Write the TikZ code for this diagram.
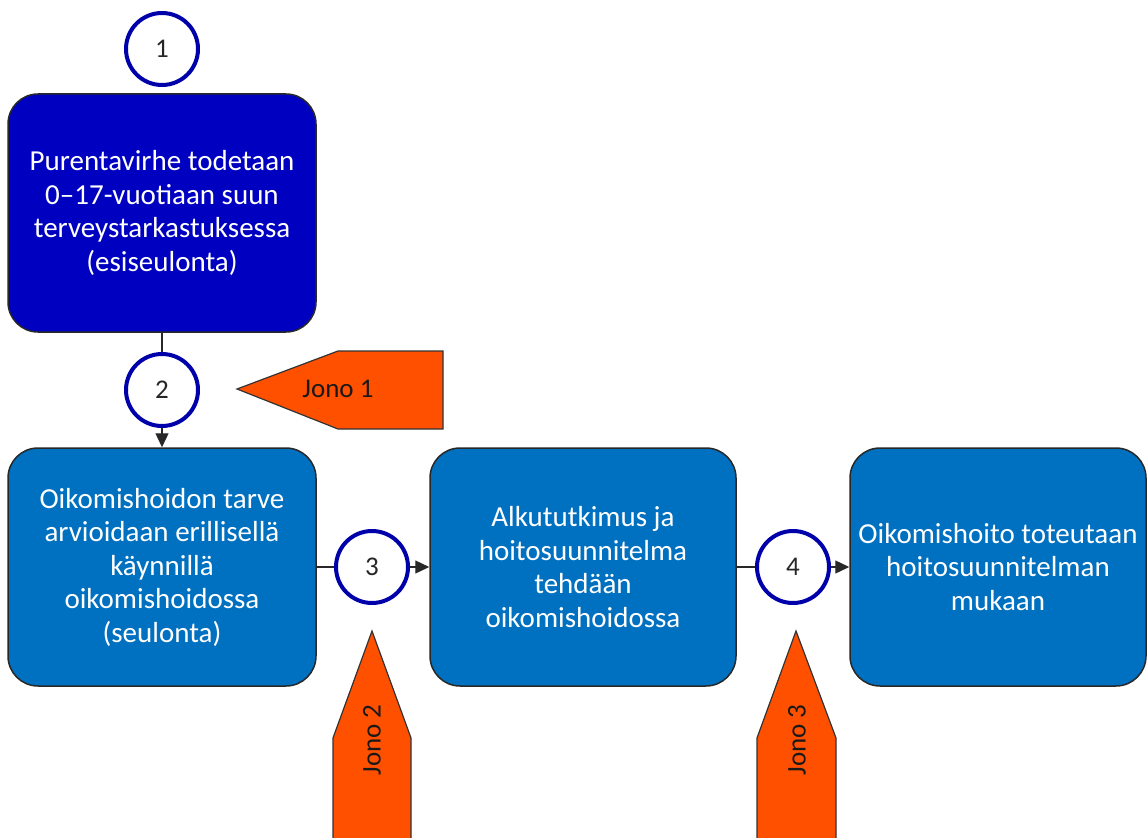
\documentclass[tikz,border=0pt]{standalone}
\usepackage{fontspec}
\setmainfont{Carlito}
\usetikzlibrary{arrows.meta}
\definecolor{darkbox}{RGB}{0,0,192}
\definecolor{midbox}{RGB}{0,112,192}
\definecolor{ringblue}{RGB}{0,0,170}
\definecolor{jonoorange}{RGB}{255,80,0}
\definecolor{edgegray}{RGB}{40,40,40}
\begin{document}
\begin{tikzpicture}[x=1pt,y=-1pt,
  stepbox/.style={rectangle, rounded corners=30pt, draw=edgegray, line width=1.5pt,
    minimum height=238pt, inner sep=0pt, align=center, text=white,
    font=\fontsize{29}{33.5}\selectfont},
  numring/.style={circle, draw=ringblue, fill=white, line width=4pt, minimum size=72pt,
    inner sep=0pt, text=black!85, font=\fontsize{27}{30}\selectfont},
  flag/.style={fill=jonoorange, draw=black!80, line width=1.2pt},
  flaglabel/.style={text=black!90, inner sep=0pt, font=\fontsize{27}{30}\selectfont},
  link/.style={draw=edgegray, line width=1.3pt},
  linkarrow/.style={link, -{Triangle[length=14pt,width=13pt]}}]
\useasboundingbox (0,0) rectangle (1147,837);
\clip (0,0) rectangle (1147,837);
% boxes
\node[stepbox, fill=darkbox, minimum width=308pt] (b1) at (162,213)
  {Purentavirhe todetaan\\0--17-vuotiaan suun\\terveystarkastuksessa\\(esiseulonta)};
\node[stepbox, fill=midbox, minimum width=308pt] (b2) at (162,567)
  {Oikomishoidon tarve\\arvioidaan erillisellä\\käynnillä\\oikomishoidossa\\(seulonta)};
\node[stepbox, fill=midbox, minimum width=306pt] (b3) at (583,567)
  {Alkututkimus ja\\hoitosuunnitelma\\tehdään\\oikomishoidossa};
\node[stepbox, fill=midbox, minimum width=296pt] (b4) at (998,567)
  {Oikomishoito toteutaan\\hoitosuunnitelman\\mukaan};
% numbered rings
\node[numring] (c1) at (162,49) {1};
\node[numring] (c2) at (162,390) {2};
\node[numring] (c3) at (372,567) {3};
\node[numring] (c4) at (793,567) {4};
% connectors
\draw[link] (b1.south) -- (c2.north);
\draw[linkarrow] (c2.south) -- (b2.north);
\draw[link] (b2.east) -- (c3.west);
\draw[linkarrow] (c3.east) -- (b3.west);
\draw[link] (b3.east) -- (c4.west);
\draw[linkarrow] (c4.east) -- (b4.west);
% queue flags
\draw[flag] (237,389) -- (338,351) -- (443,351) -- (443,429) -- (338,429) -- cycle;
\node[flaglabel] (j1) at (338,389) {Jono 1};
\draw[flag] (372,631) -- (411,738) -- (411,845) -- (333,845) -- (333,738) -- cycle;
\node[flaglabel, rotate=90] (j2) at (372,740) {Jono 2};
\draw[flag] (796,631) -- (836,738) -- (836,845) -- (757,845) -- (757,738) -- cycle;
\node[flaglabel, rotate=90] (j3) at (797,740) {Jono 3};
\end{tikzpicture}
\end{document}
